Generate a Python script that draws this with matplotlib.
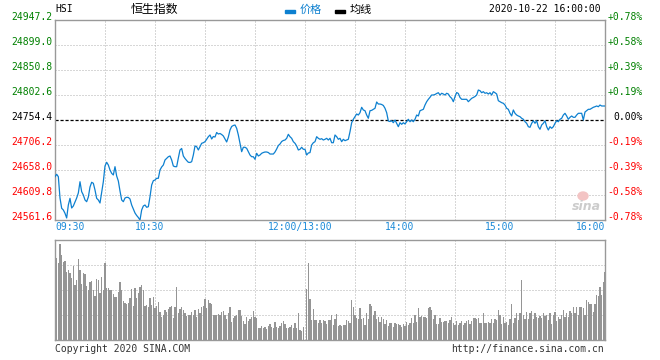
import matplotlib
matplotlib.use('Agg')
import matplotlib.pyplot as plt
import matplotlib.transforms as mtransforms
from matplotlib.patches import Rectangle, Ellipse

plt.rcParams['font.family'] = ['DejaVu Sans Mono', 'Noto Sans CJK SC']

# ---------------------------------------------------------------- data
prev_close = 24754.4
price_ticks = [24561.6, 24609.8, 24658.0, 24706.2, 24754.4,
               24802.6, 24850.8, 24899.0, 24947.2]
time_ticks = [0, 60, 150, 210, 270, 330]
time_labels = ['09:30', '10:30', '12:00/13:00', '14:00', '15:00', '16:00']

# one value per trading minute, 09:30 .. 16:00 (lunch break removed)
price = [
    24645.1, 24649.7, 24645.1, 24604.0, 24584.2, 24580.9, 24574.5, 24565.5, 24590.5, 24603.4,
    24584.7, 24588.6, 24596.3, 24604.0, 24613.7, 24635.4, 24616.2, 24609.8, 24600.2, 24596.9,
    24605.9, 24625.2, 24634.3, 24632.4, 24619.4, 24603.4, 24600.2, 24594.4, 24615.6, 24635.4,
    24665.7, 24672.9, 24667.6, 24658.0, 24651.6, 24648.4, 24664.4, 24646.4, 24636.8, 24617.5,
    24600.2, 24596.9, 24604.0, 24605.4, 24605.0, 24602.1, 24590.5, 24582.8, 24575.1, 24570.3,
    24566.4, 24561.6, 24580.9, 24588.6, 24590.5, 24586.1, 24587.2, 24606.5, 24629.1, 24637.4,
    24638.7, 24642.0, 24642.0, 24658.0, 24663.8, 24667.6, 24677.3, 24680.6, 24683.6, 24685.0,
    24677.3, 24665.7, 24664.4, 24664.4, 24681.1, 24696.6, 24699.5, 24685.0, 24680.2, 24676.3,
    24672.9, 24672.5, 24674.0, 24686.9, 24704.3, 24702.9, 24696.6, 24702.9, 24709.5, 24710.6,
    24712.6, 24717.2, 24722.2, 24725.5, 24717.8, 24722.6, 24721.6, 24730.3, 24727.4, 24728.4,
    24726.4, 24723.6, 24717.8, 24712.0, 24721.6, 24735.1, 24741.9, 24743.8, 24744.8, 24738.4,
    24725.5, 24709.5, 24693.3, 24701.8, 24701.8, 24699.8, 24693.3, 24686.9, 24683.6, 24683.6,
    24678.6, 24690.2, 24685.0, 24686.9, 24690.2, 24691.7, 24692.7, 24692.7, 24691.7, 24688.8,
    24688.8, 24688.8, 24692.7, 24698.5, 24705.2, 24708.1, 24712.9, 24714.9, 24715.8, 24719.1,
    24726.8, 24722.2, 24719.1, 24712.6, 24709.5, 24704.3, 24696.6, 24697.9, 24701.8, 24697.9,
    24697.9, 24686.9, 24690.8, 24691.5, 24706.2, 24710.6, 24712.6, 24722.2, 24719.1, 24717.2,
    24718.4, 24715.8, 24717.2, 24719.1, 24715.8, 24719.1, 24710.6, 24710.6, 24725.5, 24722.2,
    24717.2, 24719.1, 24712.6, 24717.2, 24714.5, 24715.8, 24717.2, 24731.8, 24749.2, 24755.8,
    24760.8, 24766.0, 24764.0, 24768.5, 24778.9, 24773.7, 24772.3, 24764.0, 24757.7, 24772.3,
    24773.0, 24775.0, 24777.0, 24789.1, 24785.2, 24785.2, 24784.3, 24782.4, 24777.0, 24768.5,
    24752.5, 24751.5, 24753.0, 24749.2, 24754.4, 24748.0, 24741.5, 24749.2, 24746.1, 24749.2,
    24746.7, 24751.1, 24755.8, 24751.1, 24754.4, 24751.1, 24755.8, 24764.0, 24762.1, 24772.3,
    24773.7, 24775.0, 24783.3, 24789.7, 24794.3, 24798.2, 24802.6, 24802.6, 24803.6, 24805.5,
    24807.0, 24802.6, 24805.9, 24804.5, 24802.6, 24805.9, 24804.5, 24799.3, 24796.2, 24789.7,
    24799.3, 24807.4, 24805.5, 24797.8, 24794.3, 24794.3, 24794.3, 24794.3, 24789.7, 24793.0,
    24796.2, 24797.8, 24799.7, 24802.6, 24812.2, 24810.9, 24807.0, 24809.0, 24805.9, 24807.0,
    24804.5, 24807.0, 24802.6, 24809.0, 24807.0, 24804.5, 24791.6, 24789.7, 24787.8, 24786.6,
    24783.3, 24777.0, 24775.0, 24767.3, 24762.1, 24773.7, 24767.3, 24764.0, 24762.1, 24760.8,
    24757.7, 24755.8, 24751.1, 24748.0, 24741.5, 24740.3, 24748.0, 24753.0, 24748.0, 24753.0,
    24741.5, 24736.5, 24744.8, 24748.0, 24753.0, 24741.5, 24735.1, 24741.5, 24738.4, 24741.5,
    24748.0, 24753.0, 24751.1, 24755.8, 24757.7, 24764.0, 24767.3, 24762.1, 24755.8, 24759.6,
    24762.1, 24759.6, 24759.6, 24764.0, 24767.3, 24767.3, 24767.3, 24754.4, 24769.8, 24772.3,
    24775.0, 24775.0, 24777.0, 24778.9, 24780.0, 24781.4, 24780.0, 24783.3, 24781.4, 24781.4,
    24781.4,
]

# volume (relative units, panel top = 100); morning minutes 1..149, afternoon 151..330
vol_am = [
    81.7, 77.3, 96.0, 85.0, 78.3, 79.3, 68.3, 70.0, 66.7, 61.7, 74.0, 55.0, 60.0, 80.7, 70.0,
    56.0, 67.3, 66.0, 54.0, 50.0, 58.3, 59.0, 50.0, 44.0, 60.7, 60.0, 46.7, 62.7, 50.0, 76.7,
    51.7, 51.7, 50.0, 50.0, 45.7, 43.3, 43.3, 48.3, 57.7, 50.0, 39.0, 37.3, 36.0, 36.7, 41.7,
    50.7, 34.0, 51.7, 41.7, 47.3, 53.3, 55.0, 50.0, 34.0, 35.0, 33.3, 41.7, 35.0, 42.7, 31.7,
    34.0, 38.3, 28.3, 22.7, 25.0, 30.0, 28.3, 30.7, 32.7, 34.0, 21.7, 32.7, 52.7, 26.7, 30.7,
    33.3, 30.0, 26.7, 24.0, 25.0, 25.0, 28.3, 25.0, 30.0, 22.7, 30.7, 26.7, 33.3, 34.0, 40.7,
    31.7, 40.0, 37.3, 36.0, 25.0, 25.0, 25.0, 26.0, 25.0, 28.3, 29.3, 25.0, 20.7, 26.7, 32.7,
    18.3, 21.7, 24.0, 25.0, 30.0, 30.0, 24.0, 19.3, 16.0, 23.3, 19.3, 20.7, 22.7, 29.3, 22.7,
    21.7, 11.7, 11.7, 14.0, 11.7, 13.3, 11.3, 14.0, 16.0, 13.3, 11.7, 17.7, 13.3, 11.7, 14.0,
    17.3, 19.3, 16.0, 11.7, 11.7, 13.3, 15.0, 11.7, 17.3, 11.7, 26.7, 10.0, 9.0, 12.7,
]
vol_pm = [
    50.7, 77.3, 40.7, 20.0, 30.7, 20.0, 20.0, 16.7, 20.0, 17.3, 20.0, 19.3, 16.0, 20.0,
    20.0, 25.0, 15.0, 20.7, 25.7, 14.0, 15.0, 14.0, 15.0, 15.0, 20.0, 19.3, 17.3, 40.0, 33.3,
    25.0, 21.7, 20.7, 31.7, 20.7, 21.7, 15.0, 26.7, 20.7, 36.0, 34.0, 25.0, 29.0, 20.7, 22.7,
    18.3, 22.7, 20.7, 16.0, 20.0, 14.0, 16.7, 17.3, 12.7, 17.3, 16.0, 16.0, 15.0, 13.3, 16.0,
    14.0, 18.3, 15.0, 17.3, 21.7, 16.7, 25.0, 18.3, 31.7, 23.3, 24.0, 22.7, 22.7, 21.7, 31.7,
    32.7, 30.0, 20.7, 25.0, 15.7, 16.0, 21.7, 18.3, 18.3, 19.3, 19.3, 16.7, 20.0, 22.7, 17.3,
    15.0, 19.3, 15.0, 17.3, 19.3, 15.0, 17.3, 19.3, 20.0, 16.0, 19.3, 21.7, 21.7, 20.7, 21.7,
    16.7, 16.7, 26.7, 16.7, 17.3, 18.3, 17.3, 20.7, 17.3, 20.7, 20.0, 30.0, 25.0, 16.0, 22.7,
    16.7, 18.3, 15.0, 20.7, 36.0, 17.3, 21.7, 27.3, 20.0, 26.7, 60.0, 25.0, 20.7, 28.3, 20.7,
    27.3, 29.3, 20.7, 26.7, 22.7, 21.7, 24.0, 21.7, 26.7, 24.0, 25.0, 20.0, 26.7, 16.0, 25.0,
    28.3, 19.3, 22.7, 20.7, 25.0, 30.0, 22.7, 26.7, 22.7, 29.3, 26.7, 32.7, 26.7, 32.7, 25.0,
    32.7, 32.7, 31.7, 25.0, 40.0, 38.3, 36.0, 36.0, 28.3, 36.0, 45.0, 44.0, 52.7, 45.0, 58.3,
    68.3,
]

# ---------------------------------------------------------------- style
blue = '#0d80d0'
tick_blue = '#1b8ad8'
grid_c = '#b0b0b0'
frame_c = '#999999'
green = '#008000'
red = '#ff0000'

W, H = 660, 360
fig = plt.figure(figsize=(W / 100, H / 100), dpi=100)
ax = fig.add_axes([55 / W, 1 - 220 / H, 550 / W, 200 / H])
axv = fig.add_axes([55 / W, 1 - 340 / H, 550 / W, 100 / H])

t_price = list(range(len(price)))
ax.plot(t_price, price, color=blue, lw=0.9, zorder=3)
ax.set_xlim(0, 330)
ax.set_ylim(price_ticks[0], price_ticks[-1])

t_am = list(range(1, len(vol_am) + 1))
t_pm = list(range(151, 151 + len(vol_pm)))
axv.bar(t_am + t_pm, vol_am + vol_pm, width=0.75, color='#959595', linewidth=0, zorder=3)
axv.set_xlim(0, 330)
axv.set_ylim(0, 100)

for a in (ax, axv):
    a.set_xticks([])
    a.set_yticks([])
    for s in a.spines.values():
        s.set_color(frame_c)
        s.set_linewidth(1.0)
    for m in range(30, 330, 30):
        a.axvline(m, color=grid_c, lw=0.72, ls=(0, (1, 2)), zorder=1)

for v in price_ticks[1:-1]:
    if v == prev_close:
        ax.axhline(v, color='black', lw=0.9, ls=(0, (2.5, 1.5)), zorder=2)
    else:
        ax.axhline(v, color=grid_c, lw=0.72, ls=(0, (1, 2)), zorder=1)
for v in (25, 50, 75):
    axv.axhline(v, color=grid_c, lw=0.72, ls=(0, (1, 2)), zorder=1)

# price / percentage labels
left_tr = mtransforms.offset_copy(ax.get_yaxis_transform(), fig=fig, x=-3, y=3, units='dots')
right_tr = mtransforms.offset_copy(ax.get_yaxis_transform(), fig=fig, x=38, y=3, units='dots')
for v in price_ticks:
    c = green if v > prev_close else (red if v < prev_close else 'black')
    pct = (v - prev_close) / prev_close * 100
    pct_s = '0.00%' if abs(pct) < 1e-9 else '%+.2f%%' % pct
    ax.text(0, v, '%.1f' % v, transform=left_tr, ha='right', va='center',
            fontsize=7, color=c)
    ax.text(1, v, pct_s, transform=right_tr, ha='right', va='center',
            fontsize=7, color=c)

# time labels
for t, lab in zip(time_ticks, time_labels):
    if t == 0:
        ha, dx = 'left', 0
    elif t == 330:
        ha, dx = 'right', 0
    else:
        ha, dx = 'center', -5
    tr = mtransforms.offset_copy(ax.get_xaxis_transform(), fig=fig, x=dx, y=-7, units='dots')
    ax.text(t, 0, lab, transform=tr, ha=ha, va='center', fontsize=7, color=tick_blue)

# header
def px(x, y):
    return x / W, 1 - y / H

fig.text(*px(55, 8.5), 'HSI', fontsize=7, ha='left', va='center')
fig.text(*px(154, 9.5), '恒生指数', fontsize=8.6, ha='center', va='center',
         family=['Noto Sans CJK SC'])
fig.add_artist(Rectangle(px(285, 12.7), 10 / W, 2.7 / H, color=blue,
                         transform=fig.transFigure))
fig.text(*px(300, 9.5), '价格', fontsize=8, ha='left', va='center',
         color=blue, family=['Noto Sans CJK SC'])
fig.add_artist(Rectangle(px(335, 12.7), 10 / W, 2.7 / H, color='black',
                         transform=fig.transFigure))
fig.text(*px(350, 9.5), '均线', fontsize=8, ha='left', va='center',
         family=['Noto Sans CJK SC'])
fig.text(*px(601, 9), '2020-10-22 16:00:00', fontsize=7, ha='right', va='center')

# watermark
fig.add_artist(Ellipse(px(583, 196), 10 / W, 8 / H, color='#f3c4c4',
                       transform=fig.transFigure))
fig.text(*px(586, 206), 'sina', fontsize=9, ha='center', va='center',
         color='#cccccc', style='italic', weight='bold', family=['DejaVu Sans'])

# footer
fig.text(*px(55, 349.5), 'Copyright 2020 SINA.COM', fontsize=7, ha='left',
         va='center', color='#333333')
fig.text(*px(604, 349.5), 'http://finance.sina.com.cn', fontsize=7, ha='right',
         va='center', color='#333333')

fig.savefig('out.png', dpi=100)
